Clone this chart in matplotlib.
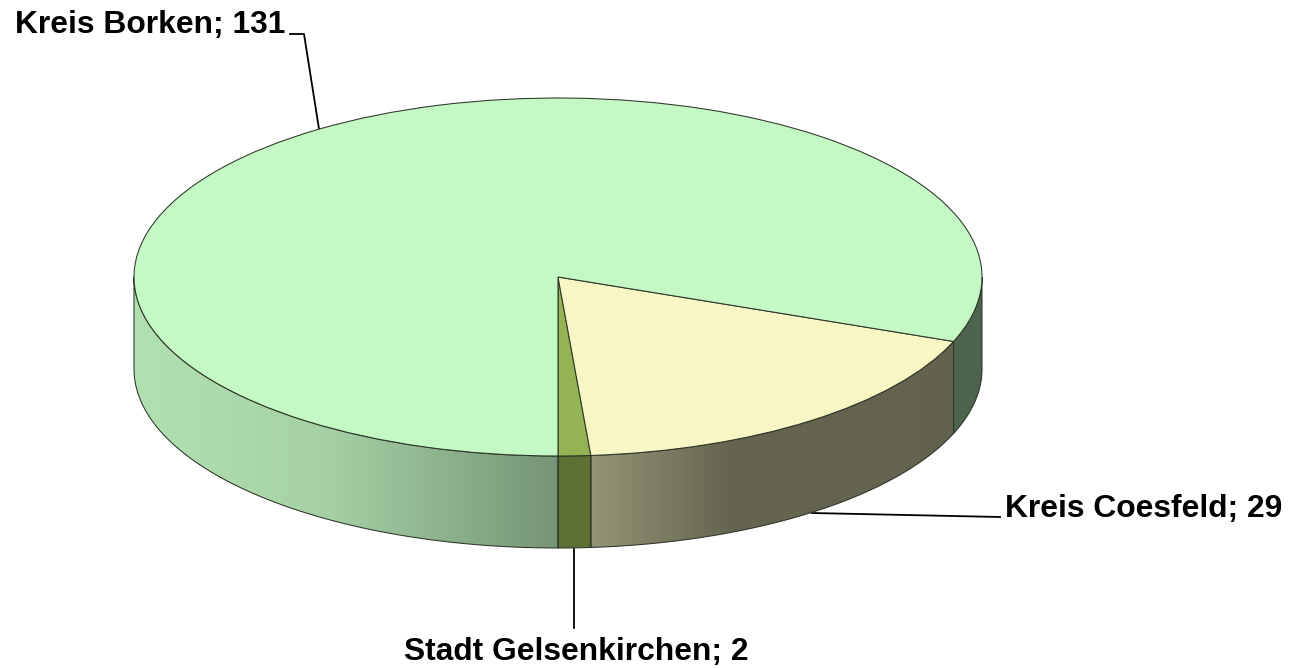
import matplotlib
matplotlib.use('Agg')
import matplotlib.pyplot as plt
import numpy as np
from matplotlib.patches import Polygon

plt.rcParams['font.family'] = ['Liberation Sans', 'DejaVu Sans']

names = ['Stadt Gelsenkirchen', 'Kreis Coesfeld', 'Kreis Borken']
values = [2, 29, 131]
top_colors = ['#94B454', '#F7F6C4', '#C4F8C4']
side_colors = ['#5F7034', '#F7F6C4', '#C4F8C4']

W, H = 1292, 668
cx, cy, rx, ry = 558, 277, 424, 179
depth = 92
edge = '#2c3428'
edge_w = 0.75

# brightness of the rim from left to right
shade_x = [134, 190, 330, 558, 591, 730, 982]
shade_y = [0.90, 0.89, 0.84, 0.60, 0.60, 0.41, 0.40]

fig = plt.figure(figsize=(W / 100, H / 100), dpi=100)
ax = fig.add_axes([0, 0, 1, 1])
ax.set_xlim(0, W)
ax.set_ylim(H, 0)
ax.axis('off')


def rim(t0, t1):
    # t measured from the front of the pie, going right
    t = np.radians(np.linspace(t0, t1, 200))
    x = cx + rx * np.sin(t)
    y = cy + ry * np.cos(t)
    return np.vstack([np.column_stack([x, y]),
                      np.column_stack([x[::-1], y[::-1] + depth])])


def draw_side(t0, t1, color):
    pts = rim(t0, t1)
    xs = np.arange(int(pts[:, 0].min()) - 1, int(pts[:, 0].max()) + 2)
    base = np.array(matplotlib.colors.to_rgb(color))
    strip = np.interp(xs, shade_x, shade_y)[None, :, None] * base
    im = ax.imshow(strip, extent=(xs[0], xs[-1], 0, 1), aspect='auto',
                   interpolation='bilinear', zorder=1)
    im.set_extent((xs[0], xs[-1], pts[:, 1].max(), pts[:, 1].min()))
    poly = Polygon(pts, closed=True, facecolor='none', edgecolor=edge, lw=edge_w, zorder=2)
    ax.add_patch(poly)
    im.set_clip_path(poly)


total = sum(values)
angles = np.cumsum([0] + values) / total * 360

# Gelsenkirchen keeps one flat colour on the rim
gels = rim(angles[0], angles[1])
ax.add_patch(Polygon(gels, closed=True, facecolor=side_colors[0], edgecolor=edge, lw=edge_w, zorder=2))
draw_side(angles[1], angles[2], side_colors[1])
draw_side(angles[2], 90, side_colors[2])
draw_side(-90, angles[0], side_colors[2])
ax.set_xlim(0, W)
ax.set_ylim(H, 0)

# leader lines
ax.plot([290, 304, 319], [34, 34, 129], color='black', lw=1.3, zorder=0)
ax.plot([812, 1000], [513, 517], color='black', lw=1.3, zorder=0)
ax.plot([574, 574], [549, 628], color='black', lw=1.3, zorder=0)

labels = {n: f'{n}; {v}' for n, v in zip(names, values)}
ax.text(15, 33, labels['Kreis Borken'], fontsize=22.9, fontweight='bold', va='baseline')
ax.text(1005, 517, labels['Kreis Coesfeld'], fontsize=22.9, fontweight='bold', va='baseline')
ax.text(404, 660, labels['Stadt Gelsenkirchen'], fontsize=22.9, fontweight='bold', va='baseline')

# top face, pie stretched into the ellipse
ax_top = fig.add_axes([(cx - rx) / W, 1 - (cy + ry) / H, 2 * rx / W, 2 * ry / H])
wedges, _ = ax_top.pie(values, colors=top_colors, startangle=270, radius=1,
                       wedgeprops={'edgecolor': edge, 'linewidth': edge_w})
ax_top.set_aspect('auto')
ax_top.set_xlim(-1, 1)
ax_top.set_ylim(-1, 1)
ax_top.set_position([(cx - rx) / W, 1 - (cy + ry) / H, 2 * rx / W, 2 * ry / H])
for w in wedges:
    w.set_clip_on(False)

fig.savefig('out.png', dpi=100)
